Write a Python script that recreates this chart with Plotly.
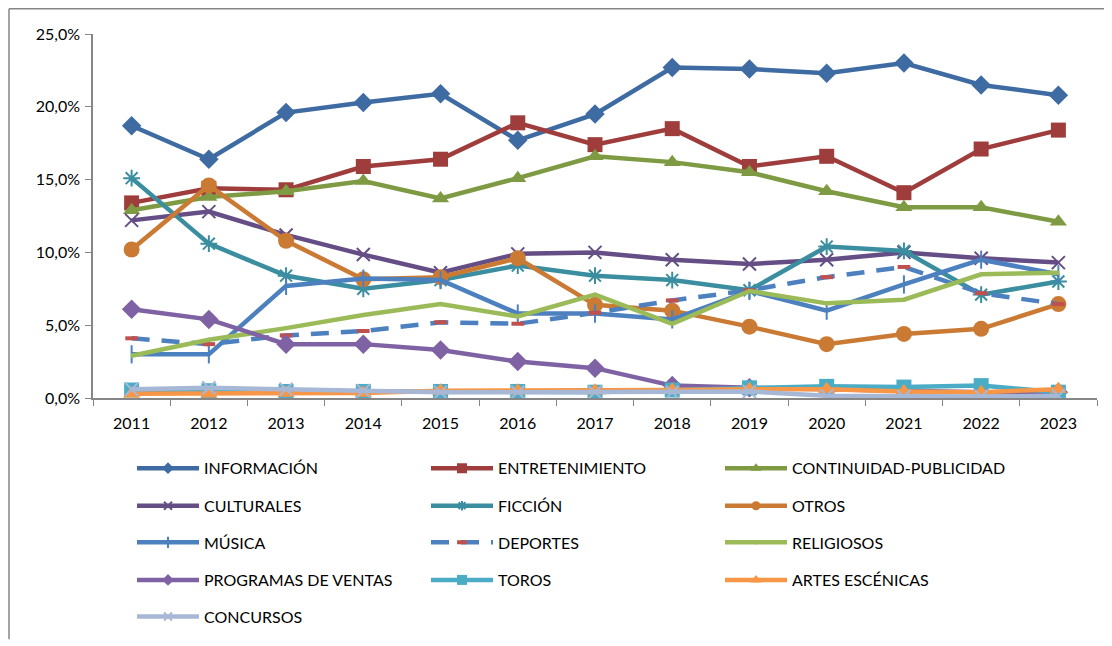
import plotly.graph_objects as go

# ---------------------------------------------------------
# Data (percent of broadcast time by programme genre)
# ---------------------------------------------------------

years = [str(y) for y in range(2011, 2024)]

informacion = [18.7, 16.4, 19.6, 20.3, 20.9, 17.7, 19.5, 22.7, 22.6, 22.3, 23.0, 21.5, 20.8]
entretenimiento = [13.4, 14.4, 14.3, 15.9, 16.4, 18.9, 17.4, 18.5, 15.9, 16.6, 14.1, 17.1, 18.4]
continuidad = [12.9, 13.8, 14.2, 14.9, 13.7, 15.1, 16.6, 16.2, 15.5, 14.2, 13.1, 13.1, 12.1]
culturales = [12.2, 12.8, 11.2, 9.85, 8.6, 9.9, 10.0, 9.5, 9.2, 9.5, 10.0, 9.6, 9.3]
ficcion = [15.1, 10.6, 8.4, 7.5, 8.1, 9.1, 8.4, 8.1, 7.4, 10.4, 10.1, 7.1, 8.0]
otros = [10.2, 14.6, 10.8, 8.15, 8.3, 9.6, 6.4, 6.0, 4.9, 3.7, 4.4, 4.75, 6.45]
musica = [3.0, 3.0, 7.7, 8.2, 8.1, 5.8, 5.8, 5.4, 7.35, 6.0, 7.8, 9.5, 8.5]
deportes = [4.1, 3.7, 4.3, 4.6, 5.2, 5.1, 5.85, 6.7, 7.4, 8.3, 9.0, 7.2, 6.45]
religiosos = [2.9, 4.0, 4.8, 5.7, 6.45, 5.6, 7.1, 5.1, 7.35, 6.5, 6.75, 8.5, 8.6]
ventas = [6.1, 5.4, 3.7, 3.7, 3.3, 2.5, 2.05, 0.85, 0.7, 0.6, 0.45, 0.4, 0.4]
toros = [0.55, 0.5, 0.45, 0.45, 0.45, 0.45, 0.4, 0.55, 0.7, 0.8, 0.75, 0.85, 0.4]
artes = [0.3, 0.3, 0.35, 0.35, 0.5, 0.5, 0.5, 0.55, 0.6, 0.6, 0.45, 0.4, 0.6]
concursos = [0.6, 0.7, 0.6, 0.5, 0.4, 0.4, 0.4, 0.4, 0.45, 0.15, 0.1, 0.1, 0.15]

# name, values, line colour, symbol, marker colour, marker size, legend marker size, dash
series = [
    ("INFORMACIÓN", informacion, "#3F6BA3", "diamond", "#3F6BA3", 15, 9, "solid"),
    ("ENTRETENIMIENTO", entretenimiento, "#9E3D3B", "square", "#9E3D3B", 15, 10, "solid"),
    ("CONTINUIDAD-PUBLICIDAD", continuidad, "#7E9A43", "triangle-up", "#7E9A43", 15, 10, "solid"),
    ("CULTURALES", culturales, "#654E85", "x-thin-open", "#654E85", 13, 8, "solid"),
    ("FICCIÓN", ficcion, "#3A8E9F", "asterisk-open", "#3A8E9F", 14, 8, "solid"),
    ("OTROS", otros, "#CB7A34", "circle", "#CB7A34", 16, 9, "solid"),
    ("MÚSICA", musica, "#4C80BE", "line-ns-open", "#4C80BE", 13, 8, "solid"),
    ("DEPORTES", deportes, "#4C80BE", "line-ew-open", "#C0504D", 9, 7, "18px,12px"),
    ("RELIGIOSOS", religiosos, "#9BBB59", "line-ew-open", "#9BBB59", 1, 1, "solid"),
    ("PROGRAMAS DE VENTAS", ventas, "#7F62A3", "diamond", "#7F62A3", 15, 9, "solid"),
    ("TOROS", toros, "#4BACC6", "square", "#4BACC6", 15, 10, "solid"),
    ("ARTES ESCÉNICAS", artes, "#F79646", "triangle-up", "#F79646", 15, 10, "solid"),
    ("CONCURSOS", concursos, "#A7B8D6", "x-thin-open", "#A7B8D6", 13, 8, "solid"),
]

# ---------------------------------------------------------
# Geometry helpers (reference pixels -> paper)
# the page adds an 8px body margin, so shift everything by OFF
# ---------------------------------------------------------

OFF = 8
W, H = 1104, 638
L, T = 93 - OFF, 34 - OFF
R = W - (1097 - OFF)
B = H - (402 - OFF)
pw = W - L - R
ph = H - T - B


def px(x):
    return (x - OFF - L) / pw


def py(y):
    return (H - B - (y - OFF)) / ph


def marker_style(sym, col, size):
    if sym == "line-ew-open":
        lw = 4
    elif sym.endswith("open"):
        lw = 2
    else:
        lw = 0
    return dict(symbol=sym, size=size, color=col, line=dict(color=col, width=lw))


fig = go.Figure()

legend_names = ["legend", "legend2", "legend3", "legend4", "legend5"]

# data traces
for name, vals, col, sym, mcol, msize, lsize, dash in series:
    fig.add_trace(
        go.Scatter(
            x=years,
            y=vals,
            name=name,
            mode="lines+markers",
            line=dict(color=col, width=4.5, dash=dash),
            marker=marker_style(sym, mcol, msize),
            legendgroup=name,
            showlegend=False,
            hovertemplate="%{x}: %{y:.1f}%<extra>" + name + "</extra>",
        )
    )

# legend entries (smaller markers, like the original)
for i, (name, vals, col, sym, mcol, msize, lsize, dash) in enumerate(series):
    fig.add_trace(
        go.Scatter(
            x=[None],
            y=[None],
            name=name,
            mode="lines+markers",
            line=dict(color=col, width=4.5, dash=dash),
            marker=marker_style(sym, mcol, lsize),
            legendgroup=name,
            legend=legend_names[i // 3],
        )
    )

font = dict(family="Lato, Carlito, Open Sans, sans-serif", size=16, color="#000000")

row_y = [473, 511, 548, 586, 623]
legends = {}
for k, ln in enumerate(legend_names):
    legends[ln] = dict(
        orientation="h",
        x=px(132),
        y=py(row_y[k]),
        xanchor="left",
        yanchor="middle",
        entrywidth=217,
        itemwidth=62,
        font=font,
        bgcolor="rgba(0,0,0,0)",
        traceorder="normal",
    )

fig.update_layout(
    width=W,
    height=H,
    margin=dict(l=L, r=R, t=T, b=B),
    plot_bgcolor="white",
    paper_bgcolor="white",
    separators=",.",
    font=font,
    showlegend=True,
    **legends,
    xaxis=dict(
        type="category",
        range=[-0.5, 12.5],
        tickson="boundaries",
        ticks="outside",
        ticklen=6,
        tickcolor="#868686",
        showline=True,
        linecolor="#868686",
        linewidth=1.5,
        showgrid=False,
        tickfont=font,
        ticklabelstandoff=10,
        automargin=False,
        fixedrange=True,
    ),
    yaxis=dict(
        range=[0, 25],
        dtick=5,
        tickformat=".1f",
        ticksuffix="%",
        ticks="outside",
        ticklen=6,
        tickcolor="#868686",
        showline=True,
        linecolor="#868686",
        linewidth=1.5,
        showgrid=False,
        zeroline=False,
        tickfont=font,
        ticklabelstandoff=2,
        automargin=False,
        fixedrange=True,
    ),
    shapes=[
        dict(
            type="line",
            xref="paper",
            yref="paper",
            x0=px(9),
            x1=px(9),
            y0=py(646),
            y1=py(OFF + 0.5),
            line=dict(color="#868686", width=1.5),
        ),
        dict(
            type="line",
            xref="paper",
            yref="paper",
            x0=px(9),
            x1=px(1112),
            y0=py(OFF + 0.5),
            y1=py(OFF + 0.5),
            line=dict(color="#868686", width=1.5),
        ),
    ],
)

fig.write_html("out.html")
